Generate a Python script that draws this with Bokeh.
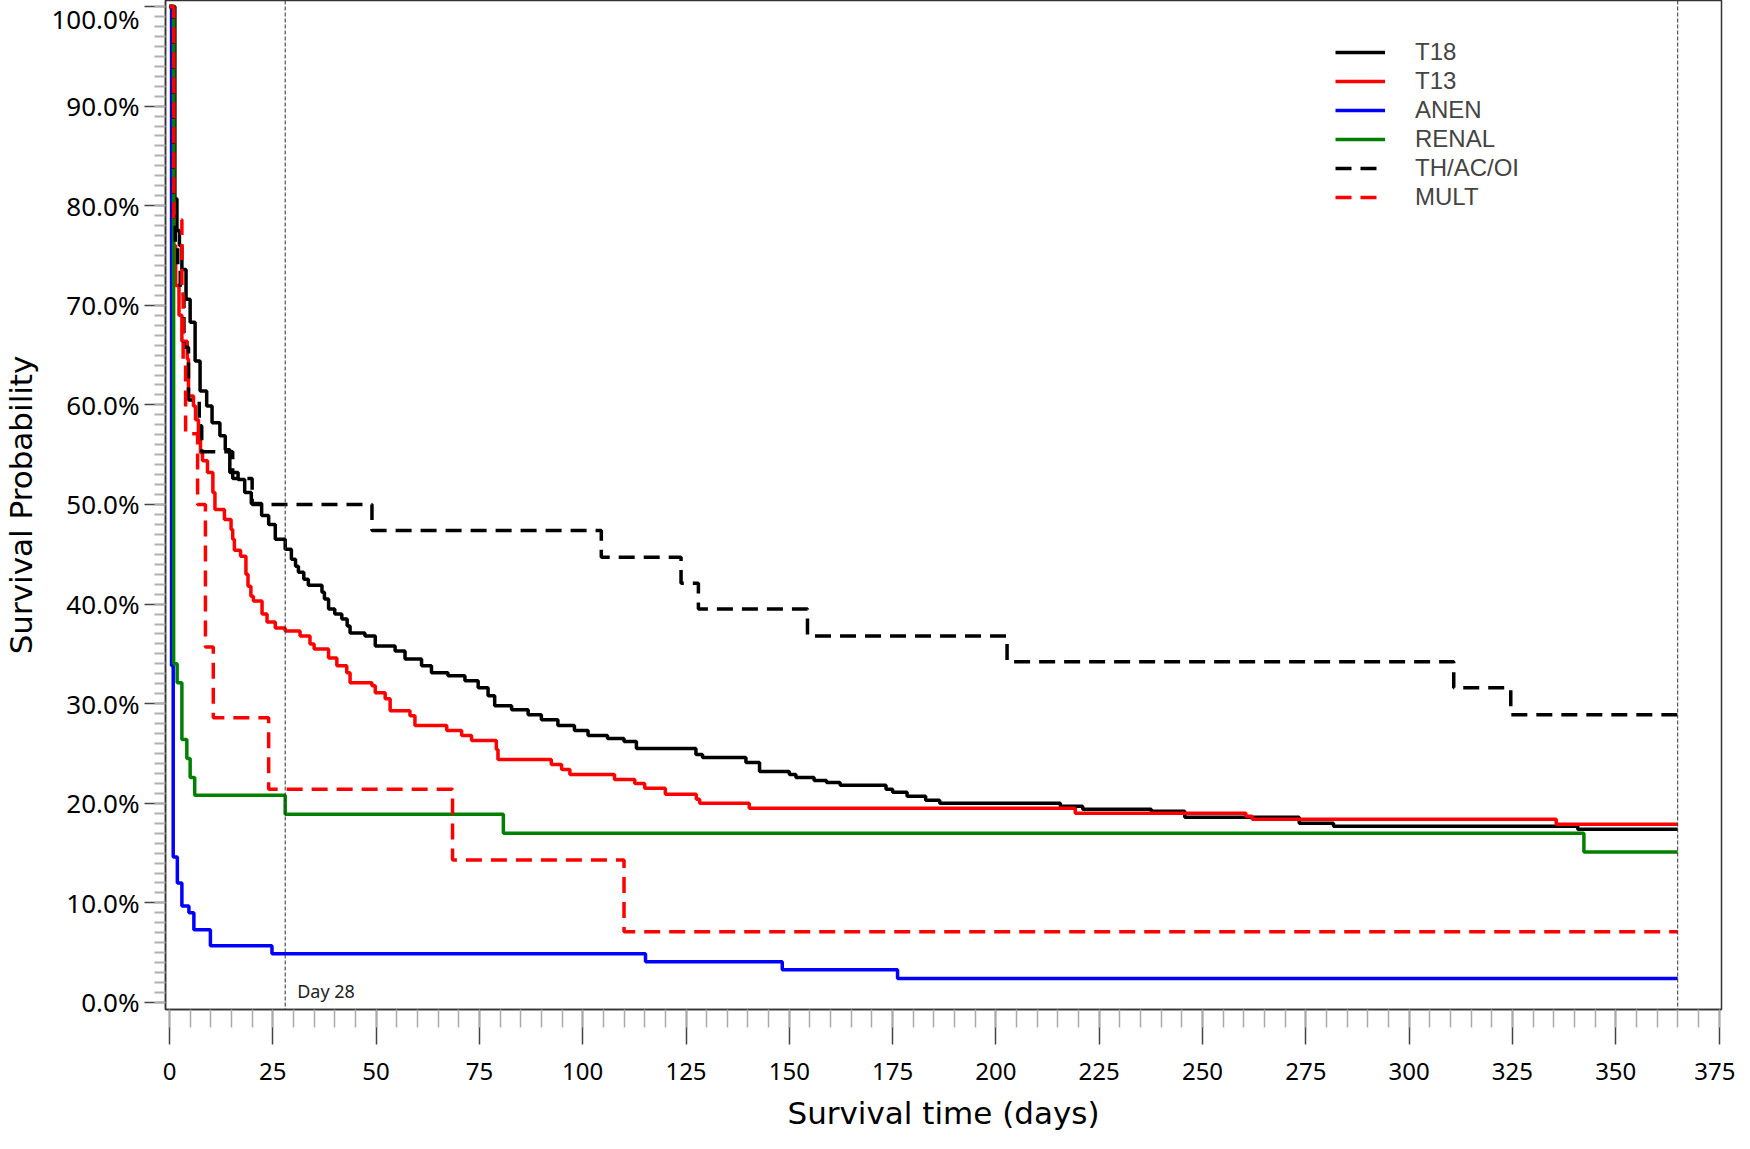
from bokeh.plotting import figure
from bokeh.models import (FixedTicker, NumeralTickFormatter, Span, Label, Legend)
from bokeh.embed import file_html
from bokeh.resources import INLINE

# ---------------- data (days, survival %) ----------------
t18_days = [0, 1.3, 1.8, 2.4, 3.0, 4.0, 5.0, 6.2, 7.4, 9.0,
            10.3, 12.2, 13.5, 14.6, 16.6, 18.2, 19.8, 22.3, 24.0, 25.6,
            28.0, 29.5, 30.5, 31.2, 32.5, 33.6, 36.9, 37.5, 38.5, 40.0,
            41.7, 43.0, 43.7, 47.3, 49.8, 54.6, 57.0, 61.0, 63.4, 67.4,
            71.5, 74.7, 77.1, 78.7, 82.8, 86.8, 90.0, 94.0, 98.0, 101.3,
            106.0, 110.0, 113.0, 127.4, 129.0, 139.5, 142.8, 150.0, 151.6, 156.0,
            159.0, 162.3, 173.4, 175.0, 178.5, 183.0, 186.4, 215.6, 221.0, 237.6,
            245.7, 273.4, 281.7, 340.8, 365]
t18_surv = [100, 80.7, 77.5, 76.0, 73.6, 70.6, 68.3, 64.4, 61.4, 59.9,
            58.2, 56.9, 55.5, 53.2, 52.5, 51.2, 50.1, 48.9, 48.0, 46.5,
            45.5, 44.5, 43.8, 43.2, 42.5, 41.9, 41.2, 40.5, 39.5, 39.0,
            38.5, 37.8, 37.1, 36.8, 35.8, 35.3, 34.5, 33.8, 33.1, 32.8,
            32.3, 31.6, 30.8, 29.8, 29.4, 28.9, 28.4, 27.8, 27.3, 26.8,
            26.5, 26.2, 25.5, 24.9, 24.6, 24.1, 23.2, 22.9, 22.6, 22.3,
            22.1, 21.8, 21.4, 21.1, 20.7, 20.3, 20.0, 19.7, 19.4, 19.2,
            18.6, 18.0, 17.7, 17.4, 17.4]

t13_days = [0, 1.0, 1.5, 2.3, 3.0, 4.3, 4.6, 5.8, 6.3, 7.0,
            7.5, 8.0, 9.2, 10.5, 11.0, 13.3, 14.9, 15.3, 15.7, 17.2,
            18.5, 19.0, 19.7, 20.3, 22.4, 23.6, 25.6, 28.0, 31.6, 34.0,
            35.0, 38.5, 40.5, 42.9, 43.7, 49.0, 49.8, 52.2, 53.4, 58.2,
            59.4, 67.1, 70.7, 73.1, 79.1, 79.5, 92.4, 94.9, 96.9, 107.7,
            112.6, 115.0, 120.0, 127.5, 128.3, 140.3, 219.2, 260.5, 262.0, 335.6,
            365]
t13_surv = [100, 76.0, 72.0, 69.0, 66.4, 64.6, 60.9, 59.9, 58.5, 56.9,
            55.2, 54.4, 53.2, 51.2, 49.5, 48.5, 47.5, 46.5, 45.4, 44.8,
            43.0, 41.8, 40.8, 40.3, 39.0, 38.2, 37.6, 37.3, 36.8, 36.0,
            35.5, 34.6, 33.8, 33.1, 32.1, 31.8, 31.1, 30.5, 29.3, 28.8,
            27.8, 27.3, 26.8, 26.3, 25.4, 24.4, 23.9, 23.4, 22.9, 22.4,
            22.0, 21.5, 20.9, 20.4, 20.0, 19.5, 19.0, 18.7, 18.4, 17.9,
            17.9]

anen_days = [0, 0.5, 0.9, 1.9, 3.0, 4.7, 5.9, 9.9, 24.8, 115.2, 148.3, 176.2, 365]
anen_surv = [100, 33.8, 14.6, 12.0, 9.7, 9.0, 7.3, 5.7, 4.9, 4.1, 3.3, 2.4, 2.4]

renal_days = [0, 1.0, 1.85, 3.0, 4.2, 5.0, 6.1, 28.0, 80.8, 342.3, 365]
renal_surv = [100, 34.0, 32.1, 26.4, 24.5, 22.6, 20.8, 18.9, 17.0, 15.1, 15.1]

thac_days = [0, 0.9, 1.4, 2.0, 2.6, 3.5, 4.6, 7.2, 7.8, 15.3,
             20.0, 49.0, 104.5, 123.8, 128.0, 154.4, 202.7, 310.8, 324.6, 365]
thac_surv = [100, 78.9, 76.3, 73.7, 71.1, 65.8, 60.5, 57.9, 55.3, 52.6,
             50.0, 47.4, 44.7, 42.1, 39.5, 36.8, 34.2, 31.6, 28.9, 28.9]

mult_days = [0, 1.0, 3.0, 3.3, 3.9, 6.8, 8.7, 10.6, 24.0, 68.5, 110.0, 365]
mult_surv = [100, 78.6, 71.4, 64.3, 57.1, 50.0, 35.7, 28.6, 21.4, 14.3, 7.1, 7.1]

x_ticks = list(range(0, 376, 25))
x_minor = list(range(0, 376, 5))
y_ticks = [i / 10 for i in range(0, 11)]
y_minor = [i / 100 for i in range(0, 101)]

series = [
    ("T18", t18_days, t18_surv, "#000000", "solid"),
    ("T13", t13_days, t13_surv, "#ff0000", "solid"),
    ("ANEN", anen_days, anen_surv, "#0000ff", "solid"),
    ("RENAL", renal_days, renal_surv, "#008000", "solid"),
    ("TH/AC/OI", thac_days, thac_surv, "#000000", "16 9"),
    ("MULT", mult_days, mult_surv, "#ff0000", "16 9"),
]

FONT = "Noto Sans"
TITLE_FONT = "DejaVu Sans"

p = figure(width=1735, height=1133, output_backend="svg", toolbar_location=None,
           x_range=(-0.966, 375.6), y_range=(-0.00703, 1.00602),
           min_border_left=162, min_border_right=14, min_border_top=0,
           min_border_bottom=124)
p.grid.visible = False
p.outline_line_color = "#333333"
p.outline_line_width = 1.5
p.background_fill_color = "white"
p.border_fill_color = "white"

# reference lines
for loc in (28, 365):
    p.add_layout(Span(location=loc, dimension="height", line_color="#333333",
                      line_width=1, line_dash="4 2"))

renderers = []
for name, d, s, col, dash in series:
    r = p.step(d, [v / 100 for v in s], mode="after", line_color=col,
               line_width=3.5, line_dash=dash)
    renderers.append((name, [r]))

p.add_layout(Label(x=30.9, y=0.012, text="Day 28", text_font=FONT,
                   text_font_size="18px", text_color="#222222",
                   text_baseline="alphabetic"))

legend = Legend(items=renderers, location=(1170, 798), orientation="vertical",
                glyph_width=50, glyph_height=28, label_height=28, spacing=1,
                label_standoff=30, padding=0, margin=0,
                label_text_font="Liberation Sans", label_text_font_size="24px",
                border_line_alpha=0, background_fill_alpha=0)
p.add_layout(legend, "center")

# axes
xa = p.xaxis[0]
xa.ticker = FixedTicker(ticks=x_ticks, minor_ticks=x_minor)
xa.major_tick_out = 35
xa.major_tick_in = 0
xa.minor_tick_out = 18
xa.minor_tick_in = 0
xa.major_tick_line_color = "#444444"
xa.major_tick_line_width = 1.5
xa.minor_tick_line_color = "#aaaaaa"
xa.minor_tick_line_width = 1.5
xa.axis_line_color = "#333333"
xa.axis_line_width = 1.5
xa.major_label_text_font = FONT
xa.major_label_text_font_size = "24px"
xa.major_label_text_color = "#000000"
xa.major_label_standoff = 18
xa.axis_label = "Survival time (days)"
xa.axis_label_text_font = TITLE_FONT
xa.axis_label_text_font_size = "31px"
xa.axis_label_text_font_style = "normal"
xa.axis_label_text_color = "#000000"
xa.axis_label_standoff = 12

ya = p.yaxis[0]
ya.ticker = FixedTicker(ticks=y_ticks, minor_ticks=y_minor)
ya.formatter = NumeralTickFormatter(format="0.0%")
ya.major_tick_out = 21
ya.major_tick_in = 0
ya.minor_tick_out = 11
ya.minor_tick_in = 0
ya.major_tick_line_color = "#444444"
ya.major_tick_line_width = 1.5
ya.minor_tick_line_color = "#b0b0b0"
ya.minor_tick_line_width = 2
ya.axis_line_color = "#333333"
ya.axis_line_width = 1.5
ya.major_label_text_font = FONT
ya.major_label_text_font_size = "26px"
ya.major_label_text_color = "#000000"
ya.major_label_standoff = 5
ya.axis_label = "Survival Probability"
ya.axis_label_text_font = TITLE_FONT
ya.axis_label_text_font_size = "31px"
ya.axis_label_text_font_style = "normal"
ya.axis_label_text_color = "#000000"
ya.axis_label_standoff = 9

open("out.html", "w").write(file_html(p, INLINE))
